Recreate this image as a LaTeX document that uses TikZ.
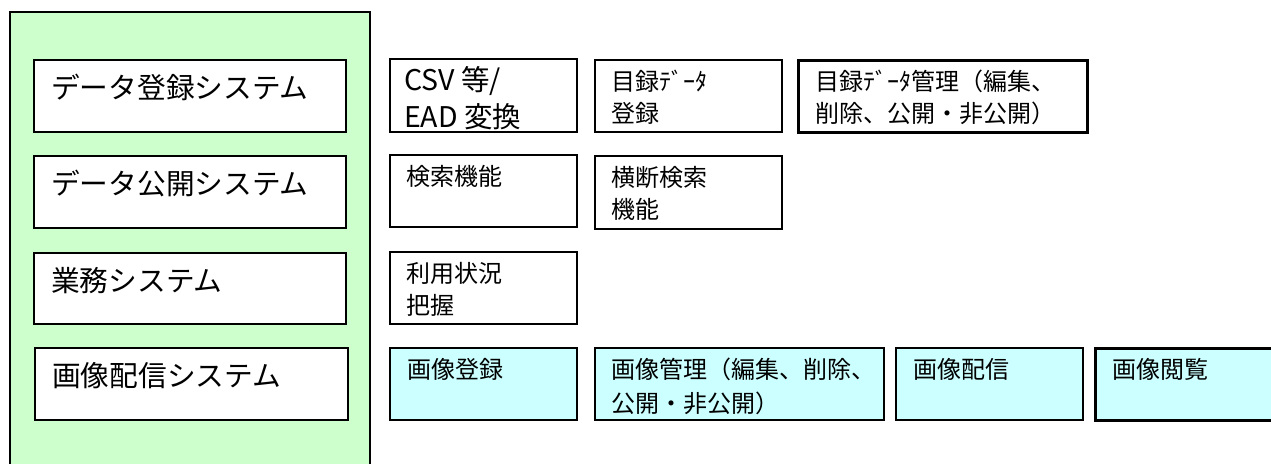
\documentclass[tikz,border=0pt]{standalone}
\usepackage{fontspec}
\setmainfont{Noto Sans CJK JP}
\usetikzlibrary{calc}
\definecolor{lgreen}{RGB}{204,255,204}
\definecolor{lcyan}{RGB}{204,255,255}
\tikzset{
  box/.style={draw=black, line width=2pt, fill=white, anchor=north west, inner sep=0pt},
  thickbox/.style={box, line width=2.6pt},
  cbox/.style={box, fill=lcyan},
  gbox/.style={draw=black, line width=2pt, fill=lgreen, anchor=north west, inner sep=0pt},
  bigtxt/.style={anchor=base west, inner sep=0pt, font=\fontsize{28.7}{36}\selectfont},
  midtxt/.style={anchor=base west, inner sep=0pt, align=left, font=\fontsize{28.5}{37}\selectfont, yshift=-37pt},
  smalltxt/.style={anchor=base west, inner sep=0pt, align=left, font=\fontsize{24}{32}\selectfont},
  twoline/.style={smalltxt, yshift=-32pt},
  twolinewide/.style={anchor=base west, inner sep=0pt, align=left, font=\fontsize{24}{34}\selectfont, yshift=-34pt},
}
\begin{document}
\begin{tikzpicture}[x=1pt,y=-1pt]
\clip (0,0) rectangle (1271,463);
\fill[white] (0,0) rectangle (1271,463);
% outer green panel
\node[gbox, minimum width=360pt, minimum height=480pt] (sys) at (8.5,11) {};
% left system boxes
\node[box, minimum width=312pt, minimum height=72pt] (l1) at (33,59) {};
\node[box, minimum width=312pt, minimum height=72pt] (l2) at (33,155) {};
\node[box, minimum width=312pt, minimum height=71pt] (l3) at (33,252) {};
\node[box, minimum width=313pt, minimum height=72pt] (l4) at (34,347) {};
\node[bigtxt] (tl1) at ($(l1.north west)+(18,39)$) {データ登録システム};
\node[bigtxt] (tl2) at ($(l2.north west)+(18,39)$) {データ公開システム};
\node[bigtxt] (tl3) at ($(l3.north west)+(18,39)$) {業務システム};
\node[bigtxt] (tl4) at ($(l4.north west)+(18,39)$) {画像配信システム};
% function boxes
\node[box, minimum width=187pt, minimum height=73pt] (a1) at (389,58) {};
\node[box, minimum width=187pt, minimum height=72pt] (a2) at (389,154) {};
\node[box, minimum width=187pt, minimum height=72pt] (a3) at (389,251) {};
\node[cbox, minimum width=187pt, minimum height=72pt] (a4) at (389,347) {};
\node[box, minimum width=187pt, minimum height=72pt] (b1) at (594,59) {};
\node[box, minimum width=187pt, minimum height=73pt] (b2) at (594,155) {};
\node[thickbox, minimum width=289pt, minimum height=72pt] (c1) at (797,59) {};
\node[cbox, minimum width=289pt, minimum height=72pt] (d4) at (594,347) {};
\node[cbox, minimum width=187pt, minimum height=72pt] (e4) at (895,347) {};
\node[cbox, thickbox, fill=lcyan, minimum width=220pt, minimum height=72pt] (f4) at (1094,347) {};
% texts
\node[midtxt] (ta1) at ($(a1.north west)+(15,32)$) {CSV 等/\\EAD 変換};
\node[smalltxt] (ta2) at ($(a2.north west)+(17,31)$) {検索機能};
\node[twoline] (ta3) at ($(a3.north west)+(17,31)$) {利用状況\\把握};
\node[smalltxt] (ta4) at ($(a4.north west)+(18,31)$) {画像登録};
\node[twoline] (tb1) at ($(b1.north west)+(17.5,31)$) {目録ﾃﾞｰﾀ\\登録};
\node[twoline] (tb2) at ($(b2.north west)+(17.5,31)$) {横断検索\\機能};
\node[twoline] (tc1) at ($(c1.north west)+(18,31)$) {目録ﾃﾞｰﾀ管理（編集、\\削除、公開・非公開）};
\node[twolinewide] (td4) at ($(d4.north west)+(17.5,31)$) {画像管理（編集、削除、\\公開・非公開）};
\node[smalltxt] (te4) at ($(e4.north west)+(18,31)$) {画像配信};
\node[smalltxt] (tf4) at ($(f4.north west)+(18,31)$) {画像閲覧};
\end{tikzpicture}
\end{document}
